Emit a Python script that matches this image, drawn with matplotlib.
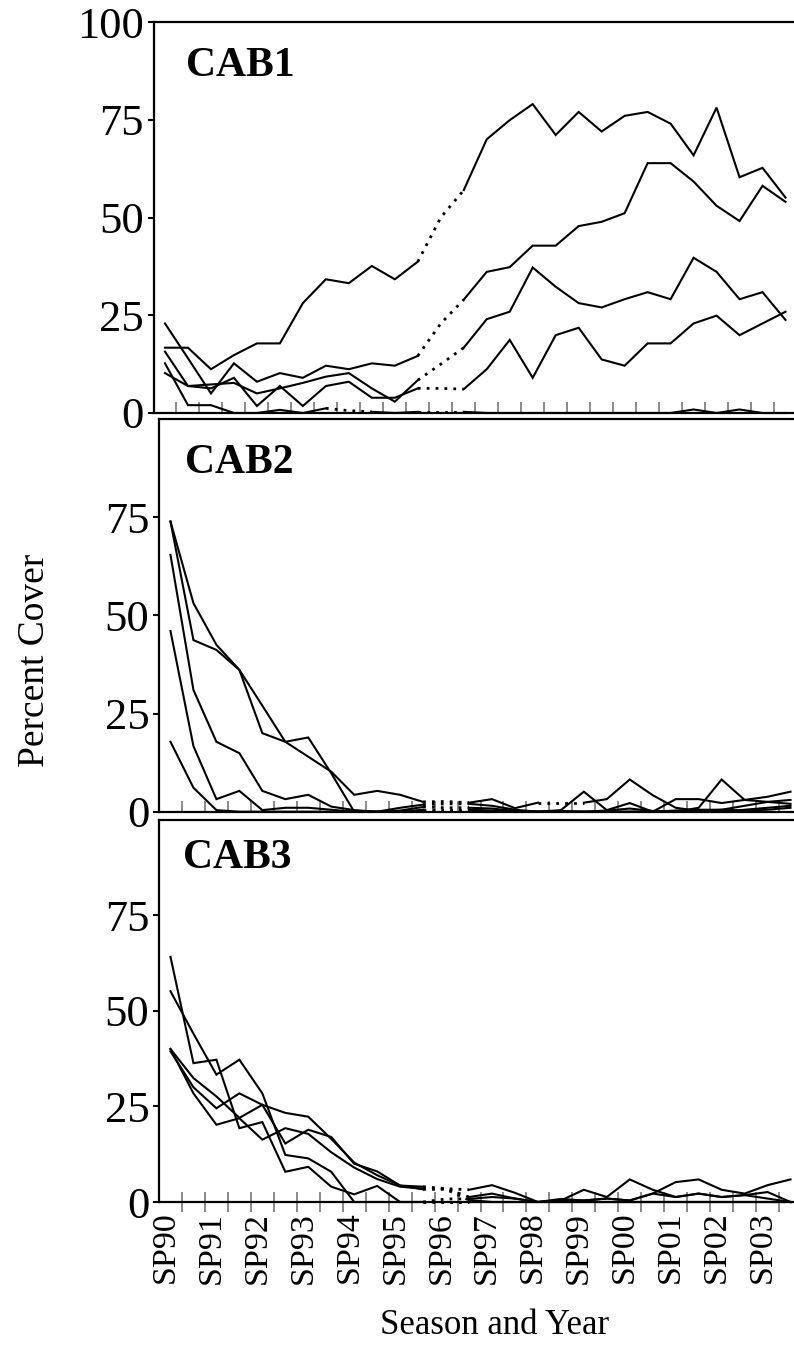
import numpy as np
import matplotlib
matplotlib.use("Agg")
import matplotlib.pyplot as plt
import matplotlib.transforms as mtransforms

plt.rcParams['font.family'] = ['Liberation Serif', 'DejaVu Serif']

# ---------------- data ----------------
season_labels = ["SP90", "FA90", "SP91", "FA91", "SP92", "FA92", "SP93", "FA93",
                 "SP94", "FA94", "SP95", "FA95", "SP96", "FA96", "SP97", "FA97",
                 "SP98", "FA98", "SP99", "FA99", "SP00", "FA00", "SP01", "FA01",
                 "SP02", "FA02", "SP03", "FA03"]

cab1_a = [16.7, 16.7, 11.2, 14.8, 17.8, 17.8, 28.1, 34.2, 33.2, 37.6, 34.2, 38.7, 50.0, 57.0,
          70.0, 74.9, 79.0, 71.1, 77.0, 72.0, 76.0, 77.0, 74.0, 65.9, 78.1, 60.3, 62.7, 55.1]
cab1_b = [22.9, 14.0, 5.0, 12.7, 8.0, 10.2, 9.0, 12.1, 11.2, 12.7, 12.1, 14.6, 22.9, 29.0,
          36.1, 37.3, 42.8, 42.8, 47.8, 48.9, 51.1, 63.9, 63.9, 59.2, 53.0, 49.1, 58.1, 54.0]
cab1_c = [10.2, 6.9, 7.3, 7.7, 5.0, 6.3, 7.7, 9.3, 10.2, 6.3, 2.9, 8.4, 12.5, 16.7,
          24.0, 25.9, 37.2, 32.3, 28.1, 27.0, 29.1, 30.9, 29.1, 39.7, 36.1, 29.1, 30.9, 23.8]
cab1_d = [15.7, 6.9, 6.3, 9.0, 1.8, 6.9, 1.8, 6.9, 8.0, 3.9, 3.9, 6.3, 6.3, 6.1,
          11.2, 18.7, 9.0, 19.9, 21.8, 13.7, 12.1, 17.8, 17.8, 22.9, 24.9, 19.9, 22.9, 25.9]
cab1_e = [12.7, 2.0, 2.0, 0.0, 0.0, 0.8, 0.0, 1.2, 0.6, 0.3, 0.0, 0.3, 0.3, 0.3,
          0.0, 0.0, 0.0, 0.0, 0.0, 0.0, 0.0, 0.0, 0.0, 0.9, 0.0, 0.9, 0.0, 0.0]

cab2_a = [73.9, 53.1, 42.5, 36.1, 27.0, 17.8, 14.0, 10.2, 4.3, 5.3, 4.3, 2.5, 2.6, 2.3,
          3.2, 0.9, 2.3, 2.3, 2.3, 3.2, 8.2, 4.2, 1.0, 0.2, 0.5, 0.3, 0.5, 1.0]
cab2_b = [73.9, 43.7, 41.2, 36.1, 20.0, 17.8, 18.9, 9.8, 0.0, 0.0, 0.0, 0.5, 0.5, 0.5,
          0.3, 0.0, 0.0, 0.4, 5.1, 0.4, 2.2, 0.0, 3.2, 3.2, 2.2, 3.0, 3.8, 5.1]
cab2_c = [65.4, 31.0, 17.8, 14.9, 5.3, 3.2, 4.3, 1.3, 0.4, 0.0, 1.0, 1.8, 2.0, 2.0,
          1.5, 0.5, 0.0, 0.2, 0.0, 0.3, 0.8, 0.2, 0.0, 1.0, 8.2, 3.0, 2.5, 2.0]
cab2_d = [46.0, 16.7, 3.2, 5.3, 0.4, 1.0, 1.0, 0.5, 0.0, 0.0, 0.3, 1.2, 1.0, 1.0,
          0.8, 0.2, 0.0, 0.0, 0.0, 0.0, 0.0, 0.0, 0.3, 0.5, 0.5, 1.5, 2.5, 3.0]
cab2_e = [17.8, 6.1, 0.4, 0.0, 0.0, 0.0, 0.0, 0.0, 0.0, 0.0, 0.0, 0.3, 0.3, 0.3,
          0.0, 0.0, 0.0, 0.0, 0.0, 0.0, 0.0, 0.0, 0.0, 0.0, 0.0, 0.5, 1.0, 1.5]

cab3_a = [64.1, 36.3, 37.2, 19.3, 20.9, 7.9, 9.2, 4.0, 2.0, 4.2, 0.0, 0.0, 0.8, 0.8,
          1.3, 0.9, 0.0, 0.4, 0.4, 0.9, 0.4, 2.2, 1.3, 2.2, 1.3, 1.8, 0.9, 0.0]
cab3_b = [55.1, 44.0, 33.3, 37.2, 28.4, 12.3, 11.4, 7.9, 0.0, 0.0, 0.0, 0.0, 0.0, 0.0,
          0.0, 0.0, 0.0, 0.0, 0.0, 0.0, 0.0, 0.0, 0.0, 0.0, 0.0, 0.0, 0.0, 0.0]
cab3_c = [40.0, 32.4, 27.6, 22.0, 25.4, 15.3, 18.9, 17.0, 10.0, 8.0, 4.3, 4.0, 3.5, 3.2,
          4.4, 2.4, 0.0, 0.4, 3.2, 1.3, 5.9, 3.2, 1.3, 2.2, 1.3, 1.8, 2.6, 0.0]
cab3_d = [40.0, 28.4, 20.2, 21.9, 16.3, 19.3, 17.8, 13.0, 9.0, 6.0, 4.0, 3.5, 3.5, 1.3,
          2.2, 0.9, 0.0, 0.8, 0.4, 0.9, 0.4, 2.2, 5.2, 5.9, 3.2, 2.2, 4.4, 5.9]
cab3_e = [39.4, 30.0, 24.5, 28.4, 25.4, 23.3, 22.3, 16.5, 10.3, 7.0, 4.3, 3.3, 3.3, 0.5,
          0.0, 0.0, 0.0, 0.0, 0.0, 0.0, 0.0, 0.0, 0.0, 0.0, 0.0, 0.0, 0.0, 0.0]

# index spans (start, end) drawn dotted for each series
cab1_dotted = [[(11, 13)], [(11, 13)], [(11, 13)], [(11, 13)], [(7, 9), (11, 13)]]
cab2_dotted = [[(11, 13), (16, 18)], [(11, 13)], [(11, 13)], [(11, 13)], [(11, 13)]]
cab3_dotted = [[(11, 13)], [(11, 13)], [(11, 13)], [(11, 13)], [(11, 13)]]

panels = [
    ("CAB1", [cab1_a, cab1_b, cab1_c, cab1_d, cab1_e], cab1_dotted),
    ("CAB2", [cab2_a, cab2_b, cab2_c, cab2_d, cab2_e], cab2_dotted),
    ("CAB3", [cab3_a, cab3_b, cab3_c, cab3_d, cab3_e], cab3_dotted),
]

# ---------------- figure ----------------
W, H = 794, 1361
fig = plt.figure(figsize=(W / 100, H / 100), dpi=100)

# pixel boxes: left, top, right, bottom
boxes = [(153.5, 22, 797, 413), (159, 419, 802, 811.7), (159, 819.5, 802, 1202)]
label_pos = [(0.050, 0.862), (0.040, 0.862), (0.037, 0.873)]

x = np.arange(len(season_labels))


def runs(n, spans):
    """Split segment indices 0..n-2 into runs of (style, [indices])."""
    dotted = set()
    for a, b in spans:
        for k in range(a, b):
            dotted.add(k)
    out = []
    cur = None
    for k in range(n - 1):
        st = 'dot' if k in dotted else 'solid'
        if cur is None or cur[0] != st:
            cur = [st, [k, k + 1]]
            out.append(cur)
        else:
            cur[1].append(k + 1)
    return out


axes = []
for p, (name, series, dspans) in enumerate(panels):
    l, t, r, b = boxes[p]
    ax = fig.add_axes([l / W, 1 - b / H, (r - l) / W, (b - t) / H])
    axes.append(ax)
    for vals, spans in zip(series, dspans):
        v = np.array(vals)
        for st, idx in runs(len(v), spans):
            if st == 'solid':
                ax.plot(x[idx], v[idx], color='black', lw=1.5, solid_joinstyle='miter',
                        clip_on=False)
            else:
                ax.plot(x[idx], v[idx], color='black', lw=2.0,
                        linestyle=(0, (1.0, 2.2)), dash_capstyle='butt', clip_on=False)
    ax.set_xlim(-0.5, len(season_labels) - 0.5)
    ax.set_ylim(0, 100)
    if p == 0:
        ax.set_yticks([0, 25, 50, 75, 100])
    else:
        ax.set_yticks([0, 25, 50, 75])
    ax.tick_params(axis='y', direction='out', length=4, width=1.5, labelsize=32,
                   pad=3, colors='black')
    ax.set_xticks(x[::2])
    ax.set_xticks(np.arange(0.5, len(season_labels) - 1, 1.0), minor=True)
    ax.tick_params(axis='x', which='major', length=0)
    ax.tick_params(axis='x', which='minor', direction='inout' if p == 2 else 'in',
                   length=14 if p == 2 else 8, width=1.3, color='#808080')
    if p == 2:
        ax.set_xticklabels(season_labels[::2], rotation=90, fontsize=24.5)
        ax.tick_params(axis='x', which='major', pad=7)
        shift = mtransforms.ScaledTranslation(-5 / 100, 0, fig.dpi_scale_trans)
        for lab in ax.get_xticklabels():
            lab.set_transform(lab.get_transform() + shift)
    else:
        ax.set_xticklabels([])
    for s in ['left', 'top', 'bottom']:
        ax.spines[s].set_linewidth(1.6)
    ax.spines['right'].set_visible(False)
    ax.text(label_pos[p][0], label_pos[p][1], name, transform=ax.transAxes,
            fontsize=30, fontweight='bold', va='baseline', ha='left')

fig.text(35 / W, 1 - 660 / H, "Percent Cover", rotation=90, fontsize=27,
         ha='center', va='center')
fig.text(495 / W, 1 - 1325 / H, "Season and Year", fontsize=25,
         ha='center', va='center')

fig.savefig("out.png", dpi=100)
